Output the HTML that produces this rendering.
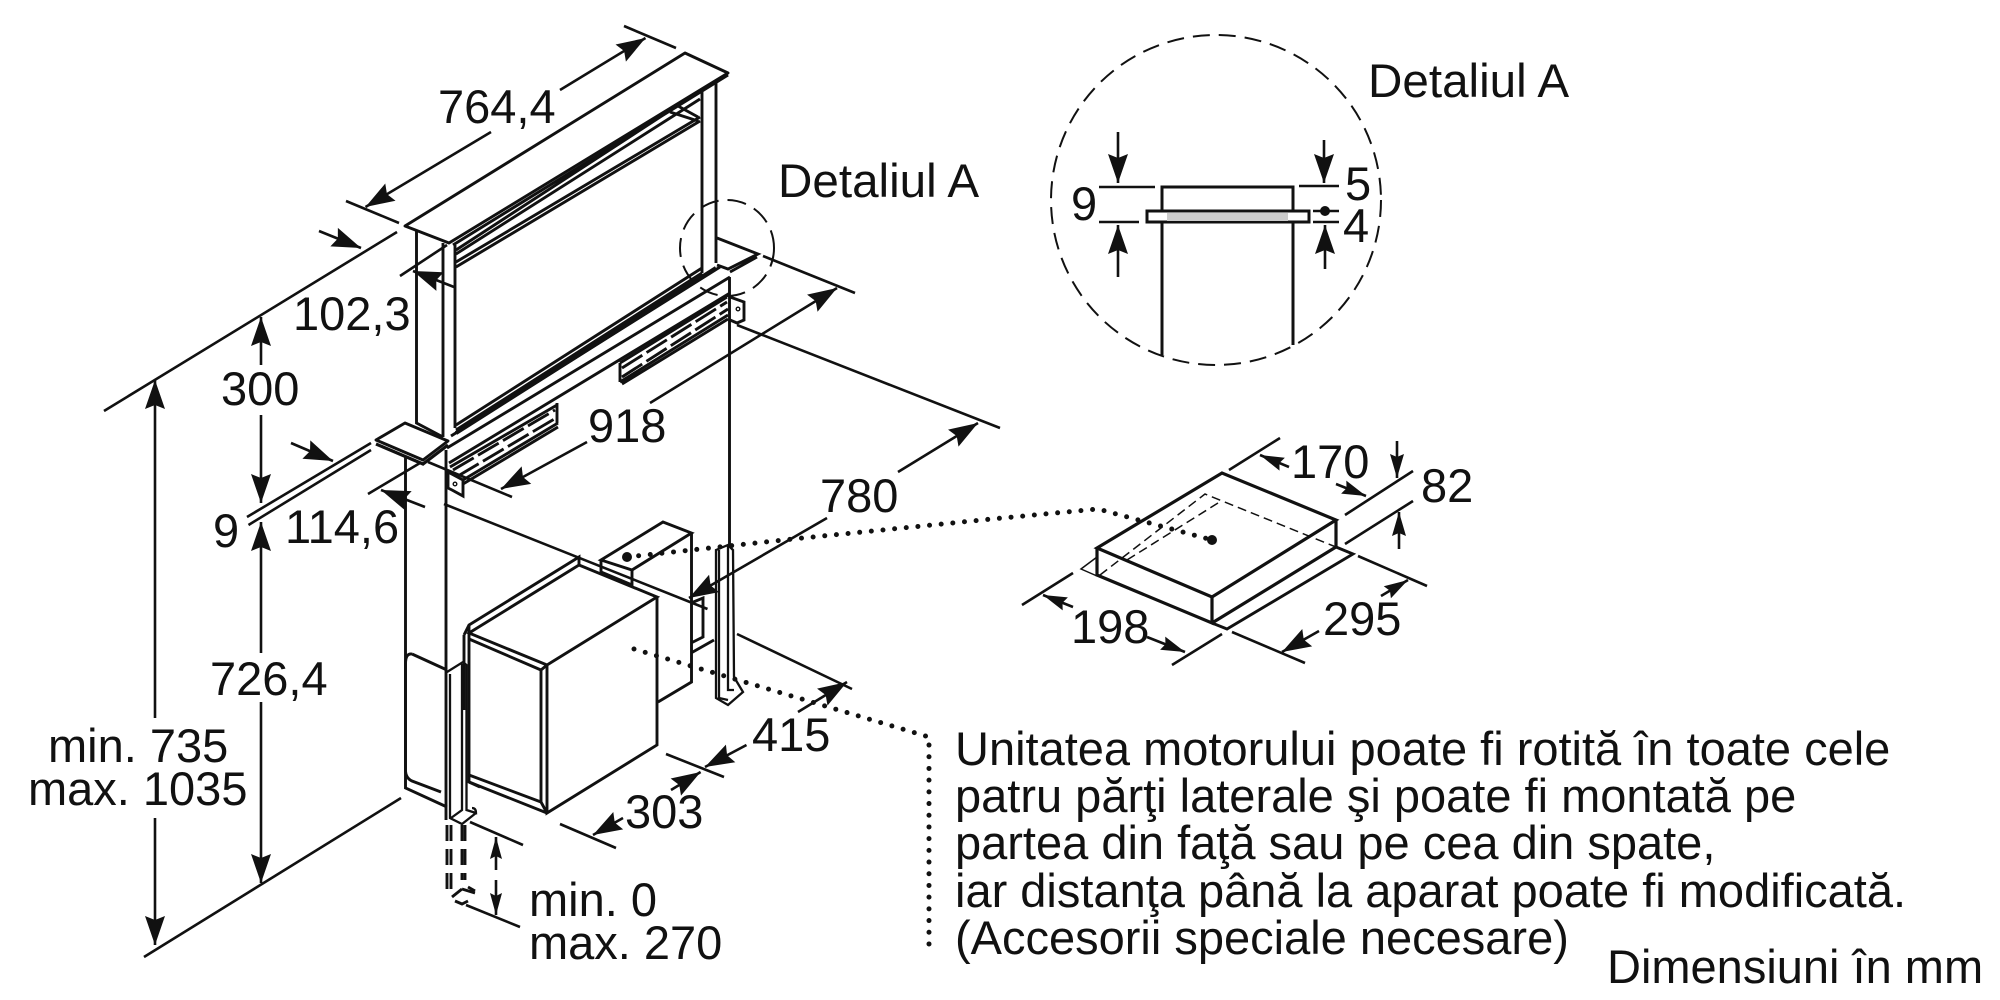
<!DOCTYPE html>
<html><head><meta charset="utf-8"><style>
html,body{margin:0;padding:0;background:#fff}
svg{display:block}
text{font-family:"Liberation Sans",sans-serif;font-size:47px;fill:#111}
.l path,.l line,.l polyline{fill:none;stroke:#111;stroke-width:2.9}
.l .w4{stroke-width:4}
.l .w3{stroke-width:3.2}
.l .w22{stroke-width:2.3}
.l .w16{stroke-width:1.5}
.d line{stroke:#111;stroke-width:2.6}
.dot{fill:none;stroke:#111;stroke-width:5;stroke-linecap:round;stroke-dasharray:0 11.7}
</style></head><body>
<svg xmlns="http://www.w3.org/2000/svg" width="2000" height="1000" viewBox="0 0 2000 1000">
<defs>
<marker id="a" markerUnits="userSpaceOnUse" markerWidth="34" markerHeight="26" refX="30" refY="13" orient="auto"><path d="M1,3 L30,13 L1,23 L5,13z" fill="#111"/></marker>
<marker id="s" markerUnits="userSpaceOnUse" markerWidth="28" markerHeight="20" refX="25" refY="10" orient="auto"><path d="M1,3 L25,10 L1,17 L4,10z" fill="#111"/></marker>
<marker id="m" markerUnits="userSpaceOnUse" markerWidth="26" markerHeight="16" refX="22" refY="8" orient="auto"><path d="M0,2 L22,8 L0,14 L3,8z" fill="#111"/></marker>
</defs>

<!-- hood -->
<g class="l">
<path d="M405,226 L685,53 L728,73 L449,243 Z" stroke-linejoin="round"/>
<path d="M728,75 L453,245 M697,93 L456,250 M700,99 L456,254" />
<path d="M700,117 L456,262 M700,121 L456,267"/>
<path d="M670,112 L698,121 M678,106 L698,117"/>
<path d="M702,90 V273 M716,83 V263"/>
<path d="M416.5,230 V423 L443,437 M443,243 V437 M455,245 V428"/>
<!-- glass bottom & rails -->
<path d="M456,425 L702,268 M456,430 L702,273"/>
<path d="M451,436 L720,267 M447,448 L730,277 M449,463 L730,293"/>
<path class="w4" d="M456,433 L716,268"/>
<!-- left plate -->
<path d="M376,440 L405,423 L448,441 L423,460 Z" stroke-linejoin="round"/>
<path class="w3" d="M376,444 L423,464 L448,445"/>
<!-- right plate -->
<path d="M717,238 L758,254 L728,269 L717,265 M757,257 L730,272"/>
<!-- verticals -->
<path d="M405.5,456 V788 L447,807"/>
<path d="M446,450 V820"/>
<path d="M729.5,277 V547"/>
<!-- right rail -->
<path d="M620,363 L727,297 M620,382 L728,315 M620,363 V382 M622,384 L728,319"/>
<path d="M622,368 L727,302 M622,377 L728,309" stroke-dasharray="24 5"/>
<path d="M730,297 L744,302 V320 L737,323 L730,320"/>
<circle cx="738" cy="309" r="1.8" fill="none" stroke="#111" stroke-width="1.4"/>
<!-- left rail -->
<path d="M450,467 L557,405 M557,403 V423 M463,480 L558,423 M463,484 L558,427"/>
<path d="M453,470 L555,410 M458,476 L556,418" stroke-dasharray="24 5"/>
<path d="M448,472 L463,480 V496 L452,490 L448,488 Z"/>
<circle cx="455" cy="484" r="1.8" fill="none" stroke="#111" stroke-width="1.4"/>
</g>
<ellipse cx="727" cy="248" rx="47" ry="48" fill="none" stroke="#111" stroke-width="2" stroke-dasharray="19 9"/>

<!-- motor unit -->
<g class="l">
<path d="M601,560 L663,522 L691.5,533 L632,570 Z"/>
<path d="M601,560 V572 L632,585 V570"/>
<path d="M691.5,533 V682 L658,702"/>
<path d="M691,603 L703,598 V637 L691,643 M691,653 L714,640"/>
<path d="M469,633 L579,565 L657,597 L547,665 Z"/>
<path d="M547,665 V813 L657,745 V597"/>
<path d="M469,633 V782 L547,813"/>
<path d="M469,639 L541,670 V802 L469,775 M541,670 L547,665 M541,802 L547,813"/>
<path d="M464,635 V710 M464,635 L469,625 L579,557 V565 M469,625 V633 M469,782 L480,787"/>
<path d="M412,654 L447,670 M405.5,664 Q405.5,653 412,654 M405.5,664 V770 Q405.5,778 412,781 L441,792"/>
<path class="w22" d="M447,672 L463,662 L466.5,665 V810 L476,813 Q476,808 472,808 M450,674 V818 L462,824 L476,813 M462,664 V810 L451,818"/>
<path class="w22" d="M716,550 L728,545 L733,550 L734,677 L743,692 L728,705 L716,698 Z M719,550 V698 L728,700 M728,545 V690 L734,690"/>
</g>
<g class="l">
<path d="M447,825 V895 M451,825 V895" stroke-dasharray="16 8"/>
<path d="M462,825 V880 M465,825 V880" stroke-dasharray="16 8"/>
<path d="M452,897 L462,889 M462,889 L475,893 M468,887 L475,891 M455,901 L462,904 L468,901"/>
</g>

<!-- dimension lines -->
<g class="d">
<line x1="624" y1="26" x2="676" y2="48"/>
<line x1="346" y1="201" x2="399" y2="223"/>
<line x1="491" y1="132" x2="365.5" y2="207" marker-end="url(#a)"/>
<line x1="560" y1="90" x2="645.5" y2="38" marker-end="url(#a)"/>
<line x1="104" y1="411" x2="397" y2="232"/>
<line x1="319" y1="231" x2="361" y2="248" marker-end="url(#a)"/>
<line x1="454" y1="287" x2="413" y2="271" marker-end="url(#a)"/>
<line x1="400" y1="276" x2="447" y2="245"/>
<line x1="261" y1="365" x2="261" y2="317" marker-end="url(#a)"/>
<line x1="261" y1="415" x2="261" y2="503" marker-end="url(#a)"/>
<line x1="155" y1="718" x2="155" y2="380" marker-end="url(#a)"/>
<line x1="155" y1="818" x2="155" y2="945" marker-end="url(#a)"/>
<line x1="144" y1="957" x2="401" y2="798"/>
<line x1="261" y1="653" x2="261" y2="522" marker-end="url(#a)"/>
<line x1="261" y1="702" x2="261" y2="883" marker-end="url(#a)"/>
<line x1="247" y1="517" x2="371" y2="443"/>
<line x1="248.5" y1="525" x2="371" y2="450"/>
<line x1="291" y1="443" x2="333" y2="461" marker-end="url(#a)"/>
<line x1="368" y1="494" x2="420" y2="463"/>
<line x1="425" y1="507" x2="381" y2="490" marker-end="url(#a)"/>
<line x1="587" y1="442" x2="501" y2="489" marker-end="url(#a)"/>
<line x1="650" y1="403" x2="837" y2="288" marker-end="url(#a)"/>
<line x1="428" y1="462" x2="512" y2="497"/>
<line x1="763" y1="256" x2="855" y2="293"/>
<line x1="737" y1="325" x2="1000" y2="428"/>
<line x1="898" y1="472" x2="978" y2="423" marker-end="url(#a)"/>
<line x1="827" y1="518" x2="689" y2="598" marker-end="url(#a)"/>
<line x1="444" y1="504" x2="707.5" y2="609"/>
<line x1="737" y1="634" x2="852" y2="689"/>
<line x1="798" y1="712" x2="847" y2="682" marker-end="url(#a)"/>
<line x1="746.5" y1="745" x2="705" y2="767" marker-end="url(#a)"/>
<line x1="666" y1="754" x2="724" y2="777"/>
<line x1="671" y1="790" x2="700.6" y2="772" marker-end="url(#a)"/>
<line x1="623" y1="818" x2="593" y2="835" marker-end="url(#a)"/>
<line x1="560" y1="824" x2="616" y2="848"/>
<line x1="470" y1="822" x2="523" y2="845"/>
<line x1="466" y1="905" x2="520" y2="927"/>
<line x1="496" y1="870" x2="496" y2="837" marker-end="url(#m)"/>
<line x1="496" y1="880" x2="496" y2="915" marker-end="url(#m)"/>
</g>

<!-- dotted leaders -->
<circle cx="627" cy="557" r="5" fill="#111"/>
<path class="dot" d="M627,557 L793,539 L992,519 L1098,509 L1212,540"/>
<circle cx="1212" cy="540" r="5" fill="#111"/>
<path class="dot" d="M634,649 L929,737 V950"/>

<!-- Detail A -->
<circle cx="1216" cy="200" r="165" fill="none" stroke="#111" stroke-width="2" stroke-dasharray="17 9"/>
<path d="M1162,355 V187 H1293 V345" fill="none" stroke="#111" stroke-width="3"/>
<rect x="1147" y="211" width="162" height="11" fill="#fff" stroke="#111" stroke-width="3"/>
<rect x="1167" y="213" width="121" height="8" fill="#ccc"/>
<g class="d">
<line x1="1099" y1="187" x2="1155" y2="187"/>
<line x1="1099" y1="222" x2="1139" y2="222"/>
<line x1="1299" y1="186" x2="1339" y2="186"/>
<line x1="1313" y1="211" x2="1339" y2="211"/>
<line x1="1313" y1="222" x2="1339" y2="222"/>
<line x1="1118" y1="132" x2="1118" y2="183" marker-end="url(#a)"/>
<line x1="1118" y1="277" x2="1118" y2="225" marker-end="url(#a)"/>
<line x1="1324" y1="140" x2="1324" y2="183" marker-end="url(#a)"/>
<line x1="1325" y1="269" x2="1325" y2="225" marker-end="url(#a)"/>
</g>
<circle cx="1325" cy="211" r="5" fill="#111"/>

<!-- small box -->
<g class="l">
<path class="w3" d="M1097,548 L1222,473 L1336,520 L1212,597 Z"/>
<path class="w3" d="M1097,548 V575 L1212,623 V597 M1212,623 L1336,547 V520"/>
<path d="M1212,623 L1227,629 L1353,554 L1336,547"/>
<path class="w16" d="M1097,557 L1081,569 L1097,576"/>
<path class="w16" d="M1100,575 L1205,494 L1336,547 M1218,503 L1127,560" stroke-dasharray="9 5"/>
</g>
<g class="d">
<line x1="1229" y1="470" x2="1280" y2="438"/>
<line x1="1289" y1="467" x2="1260" y2="455" marker-end="url(#s)"/>
<line x1="1336" y1="484" x2="1366" y2="496" marker-end="url(#s)"/>
<line x1="1345" y1="515" x2="1413" y2="471"/>
<line x1="1345" y1="544" x2="1413" y2="501"/>
<line x1="1397" y1="441" x2="1397" y2="478" marker-end="url(#s)"/>
<line x1="1399" y1="549" x2="1399" y2="512" marker-end="url(#s)"/>
<line x1="1022" y1="605" x2="1073" y2="573"/>
<line x1="1073" y1="607" x2="1043" y2="595" marker-end="url(#s)"/>
<line x1="1147" y1="637" x2="1185" y2="652" marker-end="url(#s)"/>
<line x1="1172" y1="665" x2="1222" y2="634"/>
<line x1="1358" y1="556" x2="1427" y2="586"/>
<line x1="1232" y1="632" x2="1305" y2="663"/>
<line x1="1381" y1="596" x2="1408" y2="580" marker-end="url(#s)"/>
<line x1="1319" y1="631" x2="1282" y2="652" marker-end="url(#a)"/>
</g>

<!-- labels -->
<text x="438" y="123">764,4</text>
<text x="293" y="330">102,3</text>
<text x="221" y="405">300</text>
<text x="213" y="547">9</text>
<text x="285" y="543">114,6</text>
<text x="210" y="695">726,4</text>
<text x="48" y="762">min. 735</text>
<text x="28" y="805">max. 1035</text>
<text x="529" y="916">min. 0</text>
<text x="529" y="959">max. 270</text>
<text x="625" y="828">303</text>
<text x="752" y="751">415</text>
<text x="820" y="512">780</text>
<text x="588" y="442">918</text>
<text x="778" y="197" style="font-size:47.6px">Detaliul A</text>
<text x="1368" y="97" style="font-size:47.6px">Detaliul A</text>
<text x="1071" y="220">9</text>
<text x="1345" y="200">5</text>
<text x="1343" y="242">4</text>
<text x="1291" y="478">170</text>
<text x="1421" y="502">82</text>
<text x="1071" y="643">198</text>
<text x="1323" y="635">295</text>
<text x="955" y="765">Unitatea motorului poate fi rotită în toate cele</text>
<text x="955" y="812">patru părţi laterale şi poate fi montată pe</text>
<text x="955" y="859">partea din faţă sau pe cea din spate,</text>
<text x="955" y="907">iar distanţa până la aparat poate fi modificată.</text>
<text x="955" y="954">(Accesorii speciale necesare)</text>
<text x="1607" y="983">Dimensiuni în mm</text>
</svg>
</body></html>
